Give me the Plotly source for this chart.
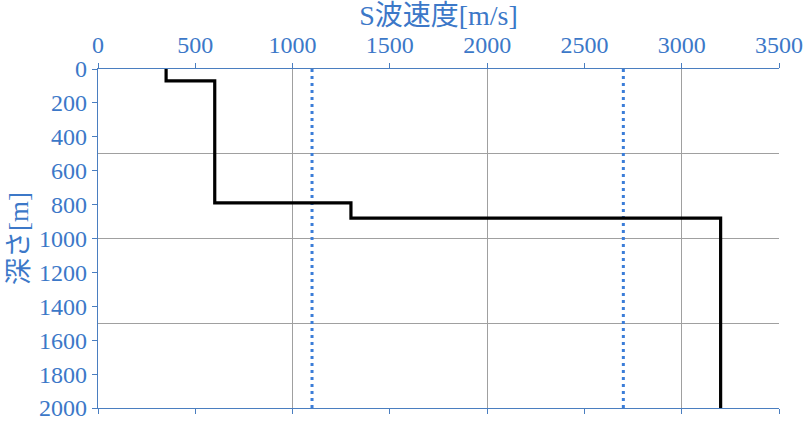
import plotly.graph_objects as go

# S-wave velocity profile (step) [m/s] vs depth [m]
vs_profile = [350, 350, 600, 600, 1300, 1300, 3200, 3200]
depth_profile = [0, 70, 70, 790, 790, 880, 880, 2000]

# reference velocities (dotted vertical lines)
ref_velocities = [1100, 2700]
ref_depth_span = [0, 2000]

x_range = [0, 3500]
y_range = [2000, 0]

blue = "#3C78C8"
axis_blue = "#4A7EC0"
font_family = "Liberation Serif, 'Times New Roman', 'Noto Sans CJK JP', serif"

fig = go.Figure()

for v in ref_velocities:
    fig.add_trace(go.Scatter(
        x=[v, v], y=ref_depth_span, mode="lines",
        line=dict(color="#3B7DD8", width=3, dash="3px,4px"),
        showlegend=False, hoverinfo="skip"))

fig.add_trace(go.Scatter(
    x=vs_profile, y=depth_profile, mode="lines",
    line=dict(color="black", width=3.2),
    showlegend=False))

fig.update_layout(
    width=810, height=426,
    margin=dict(l=98, r=31, t=69, b=18),
    paper_bgcolor="white", plot_bgcolor="white",
    font=dict(family=font_family, size=24, color=blue),
    xaxis=dict(
        side="top", range=x_range, dtick=500, tick0=0, automargin=False,
        showgrid=False, zeroline=False,
        showline=True, linecolor=axis_blue, linewidth=1.3,
        mirror="ticks", ticks="outside", ticklen=5, tickcolor=axis_blue,
        tickfont=dict(size=24, color=blue),
        title=dict(text="S波速度[m/s]", font=dict(size=28, color=blue), standoff=2),
    ),
    yaxis=dict(
        range=y_range, dtick=200, tick0=0, automargin=False,
        showgrid=False, zeroline=False,
        showline=True, linecolor=axis_blue, linewidth=1.3,
        ticks="outside", ticklen=5, tickcolor=axis_blue,
        tickfont=dict(size=24, color=blue),
        title=dict(text="深さ[m]", font=dict(size=27, color=blue), standoff=2),
    ),
    xaxis2=dict(
        overlaying="x", range=x_range, dtick=1000, tick0=0,
        showgrid=True, gridcolor="#A0A0A0", gridwidth=1,
        showticklabels=False, ticks="", zeroline=False, showline=False,
    ),
    yaxis2=dict(
        overlaying="y", range=y_range, dtick=500, tick0=0,
        showgrid=True, gridcolor="#A0A0A0", gridwidth=1,
        showticklabels=False, ticks="", zeroline=False, showline=False,
    ),
)

# invisible trace to activate the grid axes
fig.add_trace(go.Scatter(x=[None], y=[None], xaxis="x2", yaxis="y2",
                         showlegend=False, hoverinfo="skip"))

fig.write_html("out.html", config={"displayModeBar": False},
               post_script="document.body.style.margin='0';document.body.style.padding='0';")
